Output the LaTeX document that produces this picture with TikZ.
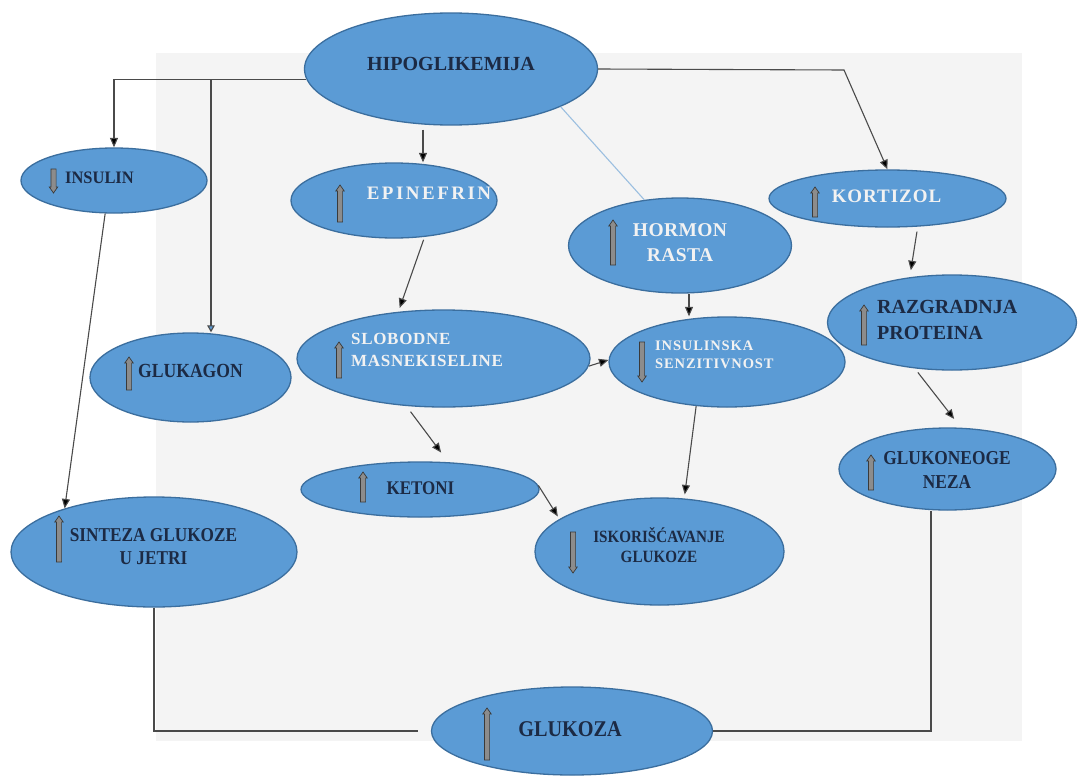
\documentclass[tikz,border=0pt]{standalone}
\usepackage{fontspec}
\usepackage{graphicx}
\setmainfont{Liberation Serif}
\usetikzlibrary{shapes.geometric,arrows.meta,calc}
\definecolor{ellF}{HTML}{5B9BD5}
\definecolor{ellB}{HTML}{3B6E9E}
\definecolor{bgG}{HTML}{F4F4F4}
\definecolor{txtD}{HTML}{1C2A44}
\definecolor{txtW}{HTML}{F2F2F2}
\definecolor{lnG}{HTML}{4A4A4A}
\definecolor{lnB}{HTML}{9BBFE0}
\definecolor{icoF}{HTML}{8C8C8C}
\definecolor{icoB}{HTML}{3A3A3A}
\newcommand{\cond}[1]{\scalebox{0.88}[1]{#1}}
\newcommand{\icoup}[3]{\filldraw[ico] ({#1-2.6},#3) -- ({#1-2.6},{#2+6}) -- ({#1-4.2},{#2+6}) -- (#1,#2) -- ({#1+4.2},{#2+6}) -- ({#1+2.6},{#2+6}) -- ({#1+2.6},#3) -- cycle;}
\newcommand{\icodown}[3]{\filldraw[ico] ({#1-2.6},#2) -- ({#1-2.6},{#3-6}) -- ({#1-4.2},{#3-6}) -- (#1,#3) -- ({#1+4.2},{#3-6}) -- ({#1+2.6},{#3-6}) -- ({#1+2.6},#2) -- cycle;}
\begin{document}
\begin{tikzpicture}[x=1pt,y=-1pt,
  ell/.style={ellipse, draw=ellB, fill=ellF, line width=1.3pt, inner sep=0pt},
  dk/.style={text=txtD, inner sep=0pt, align=center},
  wt/.style={text=txtW, inner sep=0pt, align=center},
  conn/.style={draw=lnG, line width=1.1pt, -{Triangle[length=9.5pt,width=8pt,fill=black]}},
  connb/.style={draw=lnG, line width=1.1pt, -{Triangle[length=7pt,width=7.5pt,fill=ellF]}},
  lineG/.style={draw=lnG, line width=1.3pt},
  lineB/.style={draw=lnB, line width=1.1pt},
  ico/.style={fill=icoF, draw=icoB, line width=0.7pt}]
\useasboundingbox (0,0) rectangle (1078,776);
\fill[white] (0,0) rectangle (1078,776);
\fill[bgG] (156,53) rectangle (1022,741);

% ellipses
\node[ell,minimum width=293pt,minimum height=112pt] (hipo) at (451,69) {};
\node[ell,minimum width=186pt,minimum height=65pt] (insulin) at (114,180.5) {};
\node[ell,minimum width=206pt,minimum height=75pt] (epi) at (394,200.5) {};
\node[ell,minimum width=223pt,minimum height=95pt] (hormon) at (680,245.5) {};
\node[ell,minimum width=237pt,minimum height=57pt] (kortizol) at (887.5,198.5) {};
\node[ell,minimum width=201pt,minimum height=89pt] (glukagon) at (190.5,377.5) {};
\node[ell,minimum width=293pt,minimum height=97pt] (slob) at (443.5,358.5) {};
\node[ell,minimum width=236pt,minimum height=90pt] (insul) at (727,362) {};
\node[ell,minimum width=249pt,minimum height=95pt] (razg) at (952,322.5) {};
\node[ell,minimum width=217pt,minimum height=82pt] (glukoneo) at (947.5,469) {};
\node[ell,minimum width=238pt,minimum height=55pt] (ketoni) at (420,489.5) {};
\node[ell,minimum width=286pt,minimum height=110pt] (sinteza) at (154,552) {};
\node[ell,minimum width=249pt,minimum height=107pt] (iskor) at (659.5,551.5) {};
\node[ell,minimum width=281pt,minimum height=88pt] (glukoza) at (572,731) {};

% helper coordinates
\coordinate (cG) at (211,0);
\coordinate (cE) at (423,0);
\coordinate (cK) at (844,70);
\coordinate (cH) at (689,0);
\coordinate (cL) at (931,0);

% connectors
\draw[conn] (hipo.184) -| (insulin.north);
\draw[connb] (hipo.184 -| cG) -- (glukagon.north -| cG);
\draw[conn, shorten <=4pt] (hipo.south -| cE) -- (epi.north -| cE);
\draw[lineB] (hipo.-19) -- (hormon.128);
\draw[conn] (hipo.east) -- (cK) -- (kortizol.north);
\draw[conn, shorten <=5pt, shorten >=7pt] (kortizol.-43) -- (razg.133);
\draw[conn, shorten <=5pt, shorten >=11pt] (razg.-129) -- (glukoneo.72);
\draw[lineG] (glukoneo.south -| cL) -- (cL |- glukoza.east) -- (glukoza.east);
\draw[lineG] (sinteza.south) -- (sinteza.south |- glukoza.west) -- ([xshift=-13pt]glukoza.west);
\draw[conn] (insulin.-105) -- (sinteza.154);
\draw[conn, shorten <=3pt, shorten >=4pt] (epi.-50) -- (slob.134);
\draw[conn] (slob.-3) -- (insul.179);
\draw[conn] (hormon.south -| cH) -- (insul.north -| cH);
\draw[conn, shorten >=4pt] (insul.-125) -- (iskor.65);
\draw[conn, shorten <=7pt, shorten >=12pt] (slob.-128) -- (ketoni.44);
\draw[conn, shorten >=3pt] (ketoni.2) -- (iskor.162);

% texts
\node[dk, font=\bfseries\fontsize{20}{22}\selectfont] (hipo-t) at (451,64) {HIPOGLIKEMIJA};
\node[dk, font=\bfseries\fontsize{17.5}{20}\selectfont] (insulin-t) at (99.5,178) {\scalebox{0.94}[1]{INSULIN}};
\node[wt, font=\bfseries\fontsize{19}{22}\selectfont\addfontfeature{LetterSpace=13}] (epi-t) at (429,193.5) {EPINEFRIN};
\node[wt, font=\bfseries\fontsize{19.5}{25}\selectfont\addfontfeature{LetterSpace=2}] (hormon-t) at (680,242.5) {HORMON\\RASTA};
\node[wt, font=\bfseries\fontsize{19}{22}\selectfont\addfontfeature{LetterSpace=5}] (kortizol-t) at (886.5,196.5) {KORTIZOL};
\node[dk, font=\bfseries\fontsize{20}{20}\selectfont] (glukagon-t) at (190.5,371) {\cond{GLUKAGON}};
\node[wt, align=left, anchor=west, font=\bfseries\fontsize{17}{22}\selectfont\addfontfeature{LetterSpace=4}] (slob-t) at (351,350) {SLOBODNE\\MASNEKISELINE};
\node[wt, align=left, anchor=west, font=\bfseries\fontsize{14.5}{18}\selectfont\addfontfeature{LetterSpace=6}] (insul-t) at (655,355) {INSULINSKA\\SENZITIVNOST};
\node[dk, align=left, anchor=west, font=\bfseries\fontsize{20}{26}\selectfont] (razg-t) at (877,320) {RAZGRADNJA\\PROTEINA};
\node[dk, font=\bfseries\fontsize{19.7}{24}\selectfont] (glukoneo-t) at (947,470) {\cond{GLUKONEOGE}\\\cond{NEZA}};
\node[dk, font=\bfseries\fontsize{19.3}{20}\selectfont] (ketoni-t) at (420.5,488) {\cond{KETONI}};
\node[dk, font=\bfseries\fontsize{19.6}{23}\selectfont] (sinteza-t) at (153.5,546.5) {\cond{SINTEZA GLUKOZE}\\\cond{U JETRI}};
\node[dk, font=\bfseries\fontsize{17.2}{20}\selectfont] (iskor-t) at (659,545) {\cond{ISKORIŠĆAVANJE}\\\cond{GLUKOZE}};
\node[dk, font=\bfseries\fontsize{22.5}{22}\selectfont] (glukoza-t) at (570,729.5) {\scalebox{0.9}[1]{GLUKOZA}};

% up / down indicator arrows
\icodown{53.5}{169}{193}
\icoup{340}{185}{222}
\icoup{613}{220}{265}
\icoup{815}{187}{217}
\icoup{129}{357}{390}
\icoup{339}{342}{378}
\icodown{642}{342}{382}
\icoup{864}{305}{345}
\icoup{871}{455}{490}
\icoup{363}{472}{502}
\icoup{59}{516}{562}
\icodown{573}{532}{573}
\icoup{487}{708}{760}
\end{tikzpicture}
\end{document}
